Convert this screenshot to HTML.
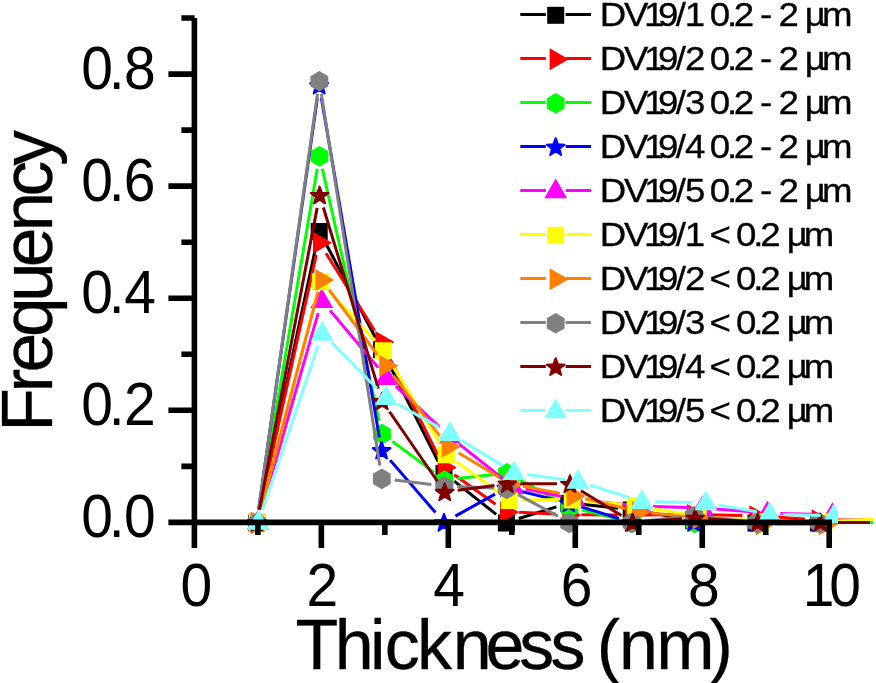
<!DOCTYPE html>
<html><head><meta charset="utf-8"><title>Thickness histogram</title>
<style>html,body{margin:0;padding:0;background:#fff}svg{display:block}</style></head>
<body>
<svg width="876" height="683" viewBox="0 0 876 683">
<defs><clipPath id="cl"><rect x="0" y="0" width="875.5" height="683"/></clipPath><clipPath id="cs"><rect x="0" y="0" width="838.0" height="683"/></clipPath></defs>
<rect width="876" height="683" fill="#fff"/>
<path d="M259.52 509.69L316.48 243.7M325.27 242.49L375.54 337.74M387.45 360.85L438.15 461.48M454.2 481.15L496.2 514.34M518.82 518.54L556.39 506.87M581.74 504.36L618.28 508.16M644.02 511.7L680.79 517.97M706.6 520.63L743.02 521.93M769.01 522.4L805.41 522.4M831.41 522.4L867.81 522.4" fill="none" stroke="#000000" stroke-width="3.0" clip-path="url(#cl)"/>
<path d="M248.3 514.4L265.3 514.4L265.3 531.4L248.3 531.4ZM310.7 222.99L327.7 222.99L327.7 239.99L310.7 239.99ZM373.1 341.24L390.1 341.24L390.1 358.24L373.1 358.24ZM435.5 465.08L452.5 465.08L452.5 482.08L435.5 482.08ZM497.9 514.4L514.9 514.4L514.9 531.4L497.9 531.4ZM560.31 495.01L577.31 495.01L577.31 512.01L560.31 512.01ZM622.71 501.51L639.71 501.51L639.71 518.51L622.71 518.51ZM685.11 512.16L702.11 512.16L702.11 529.16L685.11 529.16ZM747.51 514.4L764.51 514.4L764.51 531.4L747.51 531.4ZM809.91 514.4L826.91 514.4L826.91 531.4L809.91 531.4Z" fill="#000000" clip-path="url(#cs)"/>
<path d="M259.56 509.71L316.25 254.89M325.98 253.21L374.51 330.6M387.2 353.26L437.97 455.45M454.32 474.66L495.52 504.18M519.07 512.34L555.44 513.97M581.42 514.67L617.76 515M643.76 514.96L680.1 514.54M706.1 514.66L742.44 515.41M768.41 516.54L804.8 518.96M830.77 519.89L867.11 520.09" fill="none" stroke="#ff0000" stroke-width="3.0" clip-path="url(#cl)"/>
<path d="M250.69 511.9L269.74 522.9L250.69 533.9ZM313.02 231.7L332.07 242.7L313.02 253.7ZM375.36 331.12L394.41 342.11L375.36 353.11ZM437.7 456.59L456.75 467.59L437.7 478.59ZM500.04 501.25L519.09 512.25L500.04 523.25ZM562.37 504.06L581.42 515.05L562.37 526.05ZM624.71 504.62L643.76 515.61L624.71 526.61ZM687.05 503.89L706.1 514.89L687.05 525.88ZM749.39 505.18L768.44 516.18L749.39 527.17ZM811.72 509.32L830.77 520.32L811.72 531.32Z" fill="#ff0000" clip-path="url(#cs)"/>
<path d="M259.11 509.59L317.27 168.71M322.31 168.58L379.13 420.89M392.41 441.34L434.08 472.33M457.43 478.61L494.12 474.4M518.45 479.14L558.15 500.77M582.19 510.1L619.47 519.29M645.09 522.4L681.62 522.4M707.62 522.4L744.15 522.4M770.15 522.4L806.68 522.4M832.68 522.4L873.01 522.4" fill="none" stroke="#00ff00" stroke-width="3.0" clip-path="url(#cl)"/>
<path d="M256.93 512.6L265.85 517.75L265.85 528.05L256.93 533.2L248.01 528.05L248.01 517.75ZM319.46 146.1L328.38 151.25L328.38 161.55L319.46 166.7L310.54 161.55L310.54 151.25ZM381.98 423.78L390.9 428.93L390.9 439.23L381.98 444.38L373.06 439.23L373.06 428.93ZM444.51 470.29L453.43 475.44L453.43 485.74L444.51 490.89L435.59 485.74L435.59 475.44ZM507.04 463.12L515.96 468.27L515.96 478.57L507.04 483.72L498.12 478.57L498.12 468.27ZM569.57 497.19L578.49 502.34L578.49 512.64L569.57 517.79L560.65 512.64L560.65 502.34ZM632.09 512.6L641.01 517.75L641.01 528.05L632.09 533.2L623.17 528.05L623.17 517.75ZM694.62 512.6L703.54 517.75L703.54 528.05L694.62 533.2L685.7 528.05L685.7 517.75ZM757.15 512.6L766.07 517.75L766.07 528.05L757.15 533.2L748.23 528.05L748.23 517.75ZM819.68 512.6L828.6 517.75L828.6 528.05L819.68 533.2L810.76 528.05L810.76 517.75Z" fill="#00ff00" clip-path="url(#cs)"/>
<path d="M258.64 509.53L317.36 98.16M321.39 98.1L379.41 437.46M390.11 460.11L435.5 512.57M455.37 516.1L495.03 494.12M519.04 490.9L556.17 499.94M581.22 506.87L618.79 518.54M644.21 522.4L680.61 522.4M706.61 522.4L743.01 522.4M769.01 522.4L805.41 522.4M831.41 522.4L867.81 522.4" fill="none" stroke="#0000ff" stroke-width="3.0" clip-path="url(#cl)"/>
<path d="M256.8 513.8L259.1 519.94L265.65 520.23L260.52 524.31L262.27 530.62L256.8 527.01L251.33 530.62L253.09 524.31L247.96 520.23L254.5 519.94ZM319.2 76.69L321.5 82.83L328.05 83.11L322.92 87.2L324.67 93.51L319.2 89.89L313.74 93.51L315.49 87.2L310.36 83.11L316.91 82.83ZM381.6 441.68L383.9 447.82L390.45 448.1L385.32 452.18L387.07 458.5L381.6 454.88L376.14 458.5L377.89 452.18L372.76 448.1L379.31 447.82ZM444 513.8L446.3 519.94L452.85 520.23L447.72 524.31L449.47 530.62L444 527.01L438.54 530.62L440.29 524.31L435.16 520.23L441.71 519.94ZM506.4 479.22L508.7 485.36L515.25 485.65L510.12 489.73L511.87 496.05L506.4 492.43L500.94 496.05L502.69 489.73L497.56 485.65L504.11 485.36ZM568.81 494.41L571.1 500.55L577.65 500.84L572.52 504.92L574.27 511.23L568.81 507.62L563.34 511.23L565.09 504.92L559.96 500.84L566.51 500.55ZM631.21 513.8L633.5 519.94L640.05 520.23L634.92 524.31L636.67 530.62L631.21 527.01L625.74 530.62L627.49 524.31L622.36 520.23L628.91 519.94ZM693.61 513.8L695.9 519.94L702.45 520.23L697.32 524.31L699.07 530.62L693.61 527.01L688.14 530.62L689.89 524.31L684.76 520.23L691.31 519.94ZM756.01 513.8L758.3 519.94L764.85 520.23L759.72 524.31L761.47 530.62L756.01 527.01L750.54 530.62L752.29 524.31L747.16 520.23L753.71 519.94ZM818.41 513.8L820.7 519.94L827.25 520.23L822.12 524.31L823.87 530.62L818.41 527.01L812.94 530.62L814.69 524.31L809.56 520.23L816.11 519.94Z" fill="#0000ff" stroke="#0000ff" stroke-width="2.0" stroke-linejoin="round" clip-path="url(#cs)"/>
<path d="M261.66 509.9L318.15 313.09M330.11 310.54L378.12 367.64M395.99 386.47L439.58 427.22M459.27 444.17L502.56 478.46M525.49 489.12L561.65 496.45M587.32 500.43L627.17 504.75M653.09 506.5L689.24 507.48M715.2 508.89L754.48 512.1M780.43 513.47L819.38 514.41" fill="none" stroke="#ff00ff" stroke-width="3.0" clip-path="url(#cl)"/>
<path d="M258.07 510L269.5 529.8L246.64 529.8ZM321.74 288.19L333.17 307.99L310.31 307.99ZM386.49 365.19L397.92 384.99L375.06 384.99ZM449.08 423.7L460.51 443.5L437.65 443.5ZM512.75 474.13L524.18 493.93L501.32 493.93ZM574.39 486.63L585.82 506.43L562.96 506.43ZM640.09 493.75L651.52 513.55L628.66 513.55ZM702.24 495.43L713.67 515.23L690.81 515.23ZM767.43 500.75L778.87 520.55L756 520.55ZM832.37 502.32L843.81 522.12L820.94 522.12Z" fill="#ff00ff" clip-path="url(#cs)"/>
<path d="M260.66 509.82L317.06 293.78M329.11 290.81L374.55 340.59M390.05 361.31L439.56 443.08M456.79 461.86L498.76 492.44M522.26 499.96L559.23 499.56M585.17 500.66L622.26 504.19M648.01 507.68L685.37 514.26M711.14 517.5L748.19 520.3M774.15 521.35L811.12 521.55M837.11 521.01L874.11 519.3" fill="none" stroke="#ffff00" stroke-width="3.0" clip-path="url(#cl)"/>
<path d="M248.87 514.4L265.87 514.4L265.87 531.4L248.87 531.4ZM311.84 273.2L328.84 273.2L328.84 290.2L311.84 290.2ZM374.82 342.19L391.82 342.19L391.82 359.19L374.82 359.19ZM437.79 446.2L454.79 446.2L454.79 463.2L437.79 463.2ZM500.76 492.1L517.76 492.1L517.76 509.1L500.76 509.1ZM563.73 491.42L580.73 491.42L580.73 508.42L563.73 508.42ZM626.71 497.42L643.71 497.42L643.71 514.42L626.71 514.42ZM689.68 508.52L706.68 508.52L706.68 525.52L689.68 525.52ZM752.65 513.28L769.65 513.28L769.65 530.28L752.65 530.28ZM815.62 513.62L832.62 513.62L832.62 530.62L815.62 530.62Z" fill="#ffff00" clip-path="url(#cs)"/>
<path d="M260.74 509.83L318.05 291.98M329.12 289.84L377.52 354.89M393.23 375.61L439.74 435.89M458.81 452.91L499.09 477.28M523 486.37L559.83 493.15M585.24 498.59L625.5 508.44M651.05 512.89L685.76 516.55M711.62 519.18L748.78 522.82M774.72 524.08L811.76 524.08" fill="none" stroke="#ff8000" stroke-width="3.0" clip-path="url(#cl)"/>
<path d="M251.39 511.9L270.44 522.9L251.39 533.9ZM315.31 268.91L334.36 279.91L315.31 290.91ZM379.23 354.82L398.28 365.82L379.23 376.82ZM441.64 435.69L460.69 446.69L441.64 457.68ZM504.16 473.51L523.21 484.51L504.16 495.51ZM566.56 485L585.61 496L566.56 507ZM632.08 501.03L651.13 512.03L632.08 523.03ZM692.64 507.42L711.69 518.42L692.64 529.42ZM755.67 513.58L774.72 524.58L755.67 535.58ZM818.71 513.58L837.76 524.58L818.71 535.58Z" fill="#ff8000" clip-path="url(#cs)"/>
<path d="M258.69 509.53L317.51 93.68M321.35 93.65L379.78 465.57M394.7 479.97L431.35 484.41M457.25 486.48L493.73 487.88M518.14 494.6L557.77 516.18M582.19 522.4L618.65 522.4M644.58 521.01L681.19 517.07M707.04 517.07L743.65 521.01M769.58 522.4L806.04 522.4M832.04 522.4L868.51 522.4" fill="none" stroke="#808080" stroke-width="3.0" clip-path="url(#cl)"/>
<path d="M256.86 512.6L265.78 517.75L265.78 528.05L256.86 533.2L247.94 528.05L247.94 517.75ZM319.33 71L328.25 76.15L328.25 86.45L319.33 91.6L310.41 86.45L310.41 76.15ZM381.79 468.61L390.71 473.76L390.71 484.06L381.79 489.21L372.87 484.06L372.87 473.76ZM444.26 476.17L453.18 481.32L453.18 491.62L444.26 496.77L435.34 491.62L435.34 481.32ZM506.72 478.58L515.64 483.73L515.64 494.03L506.72 499.18L497.8 494.03L497.8 483.73ZM569.19 512.6L578.11 517.75L578.11 528.05L569.19 533.2L560.27 528.05L560.27 517.75ZM631.65 512.6L640.57 517.75L640.57 528.05L631.65 533.2L622.73 528.05L622.73 517.75ZM694.11 505.88L703.03 511.03L703.03 521.33L694.11 526.48L685.19 521.33L685.19 511.03ZM756.58 512.6L765.5 517.75L765.5 528.05L756.58 533.2L747.66 528.05L747.66 517.75ZM819.04 512.6L827.96 517.75L827.96 528.05L819.04 533.2L810.12 528.05L810.12 517.75Z" fill="#808080" clip-path="url(#cs)"/>
<path d="M259.43 509.63L317.14 207.89M323.36 207.56L378.39 388.58M389.54 411.73L437.4 481.26M457.65 490.27L494.47 485.43M520.36 483.77L556.95 483.87M581.02 490.71L621.47 515.59M645.51 521.47L682.16 518.85M708.1 518.85L744.75 521.47M770.72 522.4L807.31 522.4M833.31 522.4L869.9 522.4" fill="none" stroke="#800000" stroke-width="3.0" clip-path="url(#cl)"/>
<path d="M256.99 513.8L259.29 519.94L265.84 520.23L260.71 524.31L262.46 530.62L256.99 527.01L251.52 530.62L253.28 524.31L248.15 520.23L254.7 519.94ZM319.58 186.53L321.88 192.67L328.43 192.95L323.3 197.03L325.05 203.35L319.58 199.73L314.12 203.35L315.87 197.03L310.74 192.95L317.29 192.67ZM382.17 392.42L384.47 398.56L391.02 398.84L385.89 402.92L387.64 409.24L382.17 405.62L376.71 409.24L378.46 402.92L373.33 398.84L379.88 398.56ZM444.77 483.37L447.06 489.51L453.61 489.8L448.48 493.88L450.23 500.19L444.77 496.58L439.3 500.19L441.05 493.88L435.92 489.8L442.47 489.51ZM507.36 475.13L509.65 481.27L516.2 481.56L511.07 485.64L512.82 491.96L507.36 488.34L501.89 491.96L503.64 485.64L498.51 481.56L505.06 481.27ZM569.95 475.3L572.24 481.44L578.79 481.73L573.66 485.81L575.41 492.12L569.95 488.51L564.48 492.12L566.23 485.81L561.1 481.73L567.65 481.44ZM632.54 513.8L634.83 519.94L641.38 520.23L636.25 524.31L638.01 530.62L632.54 527.01L627.07 530.62L628.82 524.31L623.69 520.23L630.24 519.94ZM695.13 509.32L697.43 515.46L703.98 515.74L698.85 519.82L700.6 526.14L695.13 522.52L689.66 526.14L691.42 519.82L686.29 515.74L692.83 515.46ZM757.72 513.8L760.02 519.94L766.57 520.23L761.44 524.31L763.19 530.62L757.72 527.01L752.26 530.62L754.01 524.31L748.88 520.23L755.43 519.94ZM820.31 513.8L822.61 519.94L829.16 520.23L824.03 524.31L825.78 530.62L820.31 527.01L814.85 530.62L816.6 524.31L811.47 520.23L818.02 519.94Z" fill="#800000" stroke="#800000" stroke-width="2.0" stroke-linejoin="round" clip-path="url(#cs)"/>
<path d="M262.49 510.08L318.09 345.64M331.41 342.55L377.01 388.49M397.51 404.06L438.76 427.17M461.18 440.31L502.94 465.9M526.9 474.44L565.06 479.63M590.34 485.3L629.48 497.69M654.87 501.85L692.8 502.55M718.6 505.03L756.91 511.75M782.71 514.4L820.65 515.6" fill="none" stroke="#80ffff" stroke-width="3.0" clip-path="url(#cl)"/>
<path d="M258.32 510L269.76 529.8L246.89 529.8ZM322.25 320.92L333.68 340.72L310.82 340.72ZM386.17 385.31L397.6 405.11L374.74 405.11ZM450.1 421.12L461.53 440.92L438.67 440.92ZM514.02 460.29L525.45 480.09L502.59 480.09ZM577.95 468.98L589.38 488.78L566.51 488.78ZM641.87 489.21L653.3 509.01L630.44 509.01ZM705.79 490.39L717.23 510.19L694.36 510.19ZM769.72 501.59L781.15 521.39L758.29 521.39ZM833.64 503.61L845.08 523.41L822.21 523.41Z" fill="#80ffff" clip-path="url(#cs)"/>
<path d="M194.4 18.04L194.4 548M168.4 522.4L832 522.4M181.4 466.36L194.4 466.36M168.4 410.32L194.4 410.32M181.4 354.28L194.4 354.28M168.4 298.24L194.4 298.24M181.4 242.2L194.4 242.2M168.4 186.16L194.4 186.16M181.4 130.12L194.4 130.12M168.4 74.08L194.4 74.08M181.4 18.04L194.4 18.04M181.4 18.04L194.6 18.04M257.88 522.4L257.88 534.9M321.36 522.4L321.36 548M384.84 522.4L384.84 534.9M448.32 522.4L448.32 548M511.8 522.4L511.8 534.9M575.28 522.4L575.28 548M638.76 522.4L638.76 534.9M702.24 522.4L702.24 548M765.72 522.4L765.72 534.9M829.2 522.4L829.2 548" fill="none" stroke="#000" stroke-width="5.6"/>
<g font-family="'Liberation Sans', sans-serif" font-size="60.3" fill="#000">
<text transform="scale(0.945 1)" x="86.04 115.06 131.17" y="537.5">0.0</text>
<text transform="scale(0.945 1)" x="86.04 115.06 131.17" y="425.42">0.2</text>
<text transform="scale(0.945 1)" x="86.04 115.06 131.36" y="313.34">0.4</text>
<text transform="scale(0.945 1)" x="86.04 115.06 130.96" y="201.26">0.6</text>
<text transform="scale(0.945 1)" x="86.04 115.06 131.17" y="89.18">0.8</text>
<text transform="scale(0.945 1)" x="191.06" y="605.8">0</text>
<text transform="scale(0.945 1)" x="324.4" y="605.8">2</text>
<text transform="scale(0.945 1)" x="458.56" y="605.8">4</text>
<text transform="scale(0.945 1)" x="593.29" y="605.8">6</text>
<text transform="scale(0.945 1)" x="727.99" y="605.8">8</text>
<text transform="scale(0.945 1)" x="849.56 877.62" y="605.8">10</text>
</g>
<text font-family="'Liberation Sans', sans-serif" stroke="#000" stroke-width="0.3" font-size="70" x="295.59 334.78 370.09 384.74 416.89 452.78 485.6 519.24 550.49 585.49 596.83 618.98 656.33 709.56" y="669.2">Thickness (nm)</text>
<text font-family="'Liberation Sans', sans-serif" stroke="#000" stroke-width="0.3" font-size="71.5" x="-431.69 -392.54 -372.51 -336.95 -302.08 -267.31 -231.58 -196.45 -165.69" y="0" transform="translate(51.9 0) rotate(-90)">Frequency</text>
<g font-family="'Liberation Sans', sans-serif" stroke="#000" stroke-width="0.3" font-size="33.3" fill="#000">
<path d="M520.3 14.5 H545.8 M565.6 14.5 H591" stroke="#000000" stroke-width="3.0" fill="none"/>
<path d="M547.2 6.8L564.2 6.8L564.2 23.8L547.2 23.8Z" fill="#000000" stroke="none"/>
<text transform="scale(1.1 1)" x="545.18 567.21 585.5 598.11 614.37 622.59 639.24 645.33 660.83 667.15 683.8 690.91 707.56 707.79 724.44 731.56 747.26" y="25.8">DV19/1 0.2 - 2 µm</text>
<path d="M520.3 58.5 H545.8 M565.6 58.5 H591" stroke="#ff0000" stroke-width="3.0" fill="none"/>
<path d="M549.65 48.3L568.7 59.3L549.65 70.3Z" fill="#ff0000" stroke="none"/>
<text transform="scale(1.1 1)" x="545.18 567.21 585.5 598.11 614.37 622.74 639.39 645.33 660.83 667.15 683.8 690.91 707.56 707.79 724.44 731.56 747.26" y="69.8">DV19/2 0.2 - 2 µm</text>
<path d="M520.3 102.5 H545.8 M565.6 102.5 H591" stroke="#00ff00" stroke-width="3.0" fill="none"/>
<path d="M555.7 93L564.62 98.15L564.62 108.45L555.7 113.6L546.78 108.45L546.78 98.15Z" fill="#00ff00" stroke="none"/>
<text transform="scale(1.1 1)" x="545.18 567.21 585.5 598.11 614.37 622.84 639.49 645.33 660.83 667.15 683.8 690.91 707.56 707.79 724.44 731.56 747.26" y="113.8">DV19/3 0.2 - 2 µm</text>
<path d="M520.3 146.5 H545.8 M565.6 146.5 H591" stroke="#0000ff" stroke-width="3.0" fill="none"/>
<path d="M555.7 138.2L558 144.34L564.54 144.63L559.41 148.71L561.17 155.02L555.7 151.41L550.23 155.02L551.99 148.71L546.86 144.63L553.4 144.34Z" fill="#0000ff" stroke="#0000ff" stroke-width="2.0" stroke-linejoin="round"/>
<text transform="scale(1.1 1)" x="545.18 567.21 585.5 598.11 614.37 622.85 639.5 645.33 660.83 667.15 683.8 690.91 707.56 707.79 724.44 731.56 747.26" y="157.8">DV19/4 0.2 - 2 µm</text>
<path d="M520.3 190.5 H545.8 M565.6 190.5 H591" stroke="#ff00ff" stroke-width="3.0" fill="none"/>
<path d="M555.7 178.4L567.13 198.2L544.27 198.2Z" fill="#ff00ff" stroke="none"/>
<text transform="scale(1.1 1)" x="545.18 567.21 585.5 598.11 614.37 622.77 639.42 645.33 660.83 667.15 683.8 690.91 707.56 707.79 724.44 731.56 747.26" y="201.8">DV19/5 0.2 - 2 µm</text>
<path d="M520.3 234.5 H545.8 M565.6 234.5 H591" stroke="#ffff00" stroke-width="3.0" fill="none"/>
<path d="M547.2 226.8L564.2 226.8L564.2 243.8L547.2 243.8Z" fill="#ffff00" stroke="none"/>
<text transform="scale(1.1 1)" x="545.18 567.21 585.5 598.11 614.37 622.59 639.24 645 661.65 669.01 684.83 691.06 707.71 715.2 730.76" y="245.8">DV19/1 &lt; 0.2 µm</text>
<path d="M520.3 278.5 H545.8 M565.6 278.5 H591" stroke="#ff8000" stroke-width="3.0" fill="none"/>
<path d="M549.65 268.3L568.7 279.3L549.65 290.3Z" fill="#ff8000" stroke="none"/>
<text transform="scale(1.1 1)" x="545.18 567.21 585.5 598.11 614.37 622.74 639.39 645 661.65 669.01 684.83 691.06 707.71 715.2 730.76" y="289.8">DV19/2 &lt; 0.2 µm</text>
<path d="M520.3 322.5 H545.8 M565.6 322.5 H591" stroke="#808080" stroke-width="3.0" fill="none"/>
<path d="M555.7 313L564.62 318.15L564.62 328.45L555.7 333.6L546.78 328.45L546.78 318.15Z" fill="#808080" stroke="none"/>
<text transform="scale(1.1 1)" x="545.18 567.21 585.5 598.11 614.37 622.84 639.49 645 661.65 669.01 684.83 691.06 707.71 715.2 730.76" y="333.8">DV19/3 &lt; 0.2 µm</text>
<path d="M520.3 366.5 H545.8 M565.6 366.5 H591" stroke="#800000" stroke-width="3.0" fill="none"/>
<path d="M555.7 358.2L558 364.34L564.54 364.63L559.41 368.71L561.17 375.02L555.7 371.41L550.23 375.02L551.99 368.71L546.86 364.63L553.4 364.34Z" fill="#800000" stroke="#800000" stroke-width="2.0" stroke-linejoin="round"/>
<text transform="scale(1.1 1)" x="545.18 567.21 585.5 598.11 614.37 622.85 639.5 645 661.65 669.01 684.83 691.06 707.71 715.2 730.76" y="377.8">DV19/4 &lt; 0.2 µm</text>
<path d="M520.3 410.5 H545.8 M565.6 410.5 H591" stroke="#80ffff" stroke-width="3.0" fill="none"/>
<path d="M555.7 398.4L567.13 418.2L544.27 418.2Z" fill="#80ffff" stroke="none"/>
<text transform="scale(1.1 1)" x="545.18 567.21 585.5 598.11 614.37 622.77 639.42 645 661.65 669.01 684.83 691.06 707.71 715.2 730.76" y="421.8">DV19/5 &lt; 0.2 µm</text>
</g>
</svg>
</body></html>
